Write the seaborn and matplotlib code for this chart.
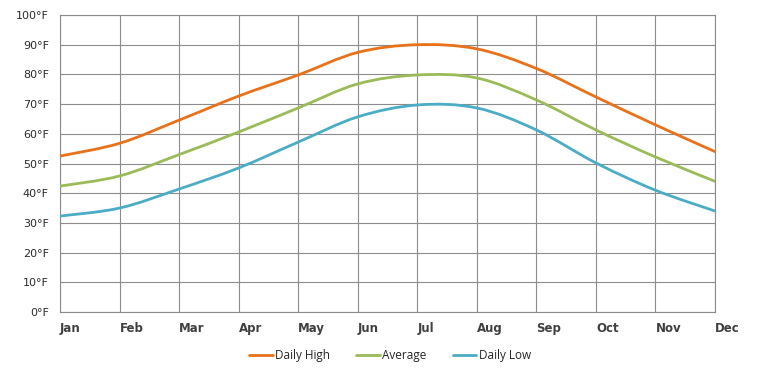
import matplotlib
matplotlib.use('Agg')
import matplotlib.pyplot as plt
from matplotlib.path import Path
from matplotlib.patches import PathPatch
from matplotlib.lines import Line2D
import seaborn as sns
import numpy as np

# values
months = ['Jan', 'Feb', 'Mar', 'Apr', 'May', 'Jun', 'Jul', 'Aug', 'Sep', 'Oct', 'Nov', 'Dec']
daily_high = [52.5, 56.8, 64.6, 72.7, 79.8, 87.4, 90.0, 88.6, 82.0, 72.4, 63.0, 54.0]
average = [42.4, 45.8, 53.0, 60.6, 68.7, 76.8, 79.8, 78.8, 71.4, 61.3, 52.2, 44.0]
daily_low = [32.3, 35.0, 41.4, 48.5, 57.2, 65.7, 69.7, 68.7, 61.3, 50.2, 41.0, 34.0]
series_names = ['Daily High', 'Average', 'Daily Low']
y_ticks = [0, 10, 20, 30, 40, 50, 60, 70, 80, 90, 100]

colors = ['#E8711A', '#9BBB59', '#4BACC6']
grid_col = '#8C8C8C'

sns.set_theme(style='white')
plt.rcParams['font.family'] = ['DejaVu Sans']

fig = plt.figure(figsize=(7.68, 3.75), dpi=100)
ax = fig.add_axes([60 / 768, 1 - 312 / 375, 655 / 768, 297 / 375])


def smooth_path(xs, ys):
    # Excel-like smoothed line: Catmull-Rom segments as cubic Beziers
    pts = np.column_stack([xs, ys]).astype(float)
    ext = np.vstack([pts[0], pts, pts[-1]])
    verts = [pts[0]]
    codes = [Path.MOVETO]
    for i in range(1, len(ext) - 2):
        p0, p1, p2, p3 = ext[i - 1], ext[i], ext[i + 1], ext[i + 2]
        verts += [p1 + (p2 - p0) / 6, p2 - (p3 - p1) / 6, p2]
        codes += [Path.CURVE4] * 3
    return Path(verts, codes)


x = np.arange(len(months))
for vals, col in zip([daily_high, average, daily_low], colors):
    ax.add_patch(PathPatch(smooth_path(x, vals), facecolor='none', edgecolor=col,
                           lw=2.0, capstyle='round', zorder=3))

ax.set_xlim(0, 11)
ax.set_ylim(0, 100)
ax.set_xticks(x)
ax.set_xticklabels(months)
ax.set_yticks(y_ticks)
ax.set_yticklabels([f'{v}°F' for v in y_ticks])
ax.grid(True, color=grid_col, lw=0.8)
ax.set_axisbelow(True)
for s in ax.spines.values():
    s.set_color(grid_col)
    s.set_linewidth(0.8)

ax.tick_params(axis='y', length=0, pad=8, labelsize=8, labelcolor='#2b2b2b')
ax.tick_params(axis='x', length=0, pad=7, labelsize=8.5, labelcolor='#404040')
for lab in ax.get_xticklabels():
    lab.set_horizontalalignment('left')
    lab.set_fontweight('bold')

handles = [Line2D([], [], color=c, lw=2.0) for c in colors]
fig.legend(handles, series_names, loc='center', bbox_to_anchor=(390 / 768, 1 - 356 / 375),
           ncol=3, frameon=False, handlelength=2.0, handletextpad=0.2, columnspacing=2.2,
           prop={'family': 'Open Sans', 'size': 8.5})

fig.savefig('out.png', dpi=100)
